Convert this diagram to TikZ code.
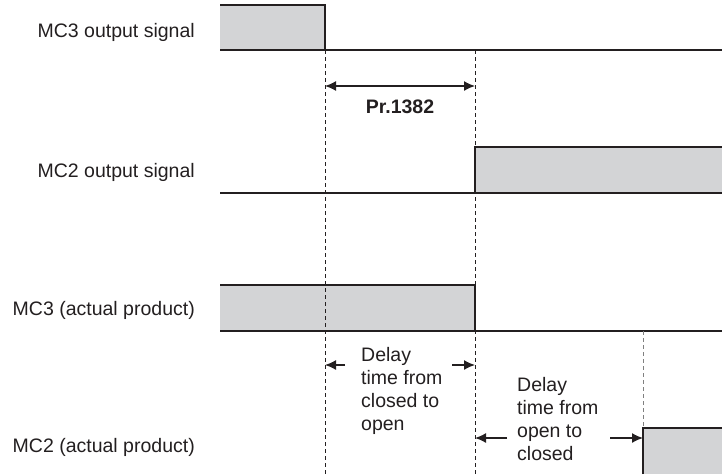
\documentclass[tikz,border=0pt]{standalone}
\usepackage{fontspec}
\setmainfont{Liberation Sans}
\usetikzlibrary{arrows.meta}
\definecolor{sigfill}{HTML}{D3D4D6}
\definecolor{ink}{HTML}{231F20}
\begin{document}
\begin{tikzpicture}[x=1pt, y=-1pt,
    txt/.style={font=\fontsize{19.5}{22.7}\selectfont, text=ink, inner sep=0pt},
    sigline/.style={ink, line width=1.4pt},
    guide/.style={ink, line width=0.8pt, dash pattern=on 4pt off 3pt},
    timearrow/.style={ink, line width=1.4pt, -{Latex[length=11pt,width=10pt]}}]
  \useasboundingbox (0,0) rectangle (722,474);

  % signal names
  \node[txt, anchor=base east] (mcthreeout) at (195,37) {MC3 output signal};
  \node[txt, anchor=base east] (mctwoout) at (195,177) {MC2 output signal};
  \node[txt, anchor=base east] (mcthreeact) at (195,315) {MC3 (actual product)};
  \node[txt, anchor=base east] (mctwoact) at (195,452) {MC2 (actual product)};

  % MC3 output signal
  \fill[sigfill] (220,5) rectangle (325,50);
  \draw[sigline] (220,5) -- (325,5) -- (325,50);
  \draw[sigline] (220,50) -- (722,50);

  % MC2 output signal
  \fill[sigfill] (475,147) rectangle (722,193);
  \draw[sigline] (475,193) -- (475,147) -- (722,147);
  \draw[sigline] (220,193) -- (722,193);

  % MC3 actual product
  \fill[sigfill] (220,285) rectangle (475,331);
  \draw[sigline] (220,285) -- (475,285) -- (475,331);
  \draw[sigline] (220,331) -- (722,331);

  % MC2 actual product
  \fill[sigfill] (643,428) rectangle (722,474);
  \draw[sigline] (643,474) -- (643,428) -- (722,428);

  % time guides
  \draw[guide] (325,50) -- (325,474);
  \draw[guide] (475,50) -- (475,474);
  \draw[guide, gray, line width=1pt] (643,331) -- (643,428);

  % Pr.1382
  \coordinate (prl) at (325,86);
  \coordinate (prr) at (475,86);
  \draw[timearrow, {Latex[length=11pt,width=10pt]}-{Latex[length=11pt,width=10pt]}] (prl) -- (prr);
  \node[txt, font=\fontsize{19.5}{22.7}\selectfont\bfseries, anchor=base] (pr) at (400,113) {Pr.1382};

  % closed to open delay
  \node[txt, align=left, anchor=base west] (delayone) at (361,430)
    {Delay\\time from\\closed to\\open};
  \coordinate (doa) at (345,365);
  \coordinate (dob) at (325,365);
  \coordinate (doc) at (452,365);
  \coordinate (dod) at (475,365);
  \draw[timearrow] (doa) -- (dob);
  \draw[timearrow] (doc) -- (dod);

  % open to closed delay
  \node[txt, align=left, anchor=base west] (delaytwo) at (517,460)
    {Delay\\time from\\open to\\closed};
  \coordinate (dta) at (507,438);
  \coordinate (dtb) at (475,438);
  \coordinate (dtc) at (610,438);
  \coordinate (dtd) at (643,438);
  \draw[timearrow] (dta) -- (dtb);
  \draw[timearrow] (dtc) -- (dtd);
\end{tikzpicture}
\end{document}
